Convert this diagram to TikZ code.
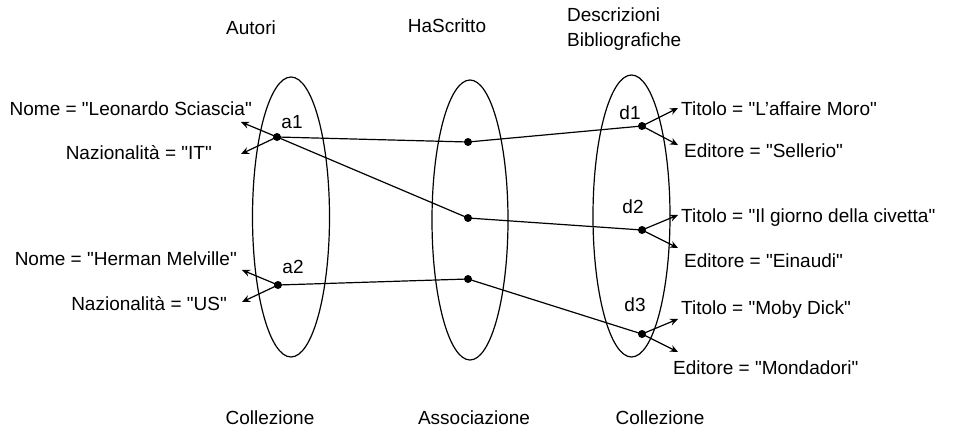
\documentclass[tikz,border=0pt]{standalone}
\usepackage{fontspec}
\setmainfont{Liberation Sans}[Ligatures=TeXOff]
\usetikzlibrary{arrows.meta}
\begin{document}
\begin{tikzpicture}[x=1pt,y=-1pt,
  lbl/.style={font=\fontsize{19}{22}\selectfont, inner sep=0pt, text height=14pt, text depth=0pt},
  tag/.style={font=\fontsize{19}{22}\selectfont, inner sep=0pt},
  dot/.style={circle, fill=black, inner sep=0pt, minimum size=8pt},
  link/.style={line width=1.2pt},
  attr/.style={line width=1.2pt, -{Stealth[length=8pt,width=7pt]}}
]
\useasboundingbox (0,0) rectangle (953,431);
% collections
\draw[line width=1.2pt] (291,217) ellipse [x radius=38.5, y radius=140];
\draw[line width=1.2pt] (470,220) ellipse [x radius=38, y radius=140];
\draw[line width=1.2pt] (631.5,216) ellipse [x radius=38.5, y radius=141];
% titles
\node[tag] (tAut) at (251,28) {Autori};
\node[tag] (tHas) at (447,26) {HaScritto};
\node[tag, anchor=west] (tDes1) at (567,15) {Descrizioni};
\node[tag, anchor=west] (tDes2) at (567,42) {Bibliografiche};
\node[tag] (bC1) at (270,418) {Collezione};
\node[tag] (bAs) at (474,418) {Associazione};
\node[tag] (bC2) at (660,418) {Collezione};
% dots
\node[dot] (a1) at (277,137) {};
\node[dot] (a2) at (278,285) {};
\node[dot] (m1) at (468,142) {};
\node[dot] (m2) at (468,218) {};
\node[dot] (m3) at (468,279) {};
\node[dot] (d1) at (642,126) {};
\node[dot] (d2) at (642,230) {};
\node[dot] (d3) at (642,334) {};
% dot names
\node[tag] (la1) at (292,122) {a1};
\node[tag] (la2) at (293,267) {a2};
\node[tag] (ld1) at (630,113) {d1};
\node[tag] (ld2) at (633,207) {d2};
\node[tag] (ld3) at (635,305) {d3};
% links
\draw[link] (a1.center) -- (m1.center);
\draw[link] (a1.center) -- (m2.center);
\draw[link] (a2.center) -- (m3.center);
\draw[link] (m1.center) -- (d1.center);
\draw[link] (m2.center) -- (d2.center);
\draw[link] (m3.center) -- (d3.center);
% attribute arrow tips
\coordinate (pa1n) at (241,122);
\coordinate (pa1i) at (241,154);
\coordinate (pa2n) at (242,270);
\coordinate (pa2i) at (242,302);
\coordinate (pd1t) at (678,108);
\coordinate (pd1e) at (678,145);
\coordinate (pd2t) at (678,215);
\coordinate (pd2e) at (678,248);
\coordinate (pd3t) at (678,319);
\coordinate (pd3e) at (678,352);
\draw[attr] (a1.center) -- (pa1n);
\draw[attr] (a1.center) -- (pa1i);
\draw[attr] (a2.center) -- (pa2n);
\draw[attr] (a2.center) -- (pa2i);
\draw[attr] (d1.center) -- (pd1t);
\draw[attr] (d1.center) -- (pd1e);
\draw[attr] (d2.center) -- (pd2t);
\draw[attr] (d2.center) -- (pd2e);
\draw[attr] (d3.center) -- (pd3t);
\draw[attr] (d3.center) -- (pd3e);
% attribute labels
\node[lbl, anchor=east] (n1) at (252,108) {Nome = "Leonardo Sciascia"};
\node[lbl, anchor=east] (i1) at (212,152) {Nazionalità = "IT"};
\node[lbl, anchor=east] (n2) at (237,258) {Nome = "Herman Melville"};
\node[lbl, anchor=east] (i2) at (227,303) {Nazionalità = "US"};
\node[lbl, anchor=west] (t1) at (681,108) {Titolo = "L’affaire Moro"};
\node[lbl, anchor=west] (e1) at (684,150) {Editore = "Sellerio"};
\node[lbl, anchor=west] (t2) at (681,215) {Titolo = "Il giorno della civetta"};
\node[lbl, anchor=west] (e2) at (684,260) {Editore = "Einaudi"};
\node[lbl, anchor=west] (t3) at (681,307) {Titolo = "Moby Dick"};
\node[lbl, anchor=west] (e3) at (673,367) {Editore = "Mondadori"};
\end{tikzpicture}
\end{document}
